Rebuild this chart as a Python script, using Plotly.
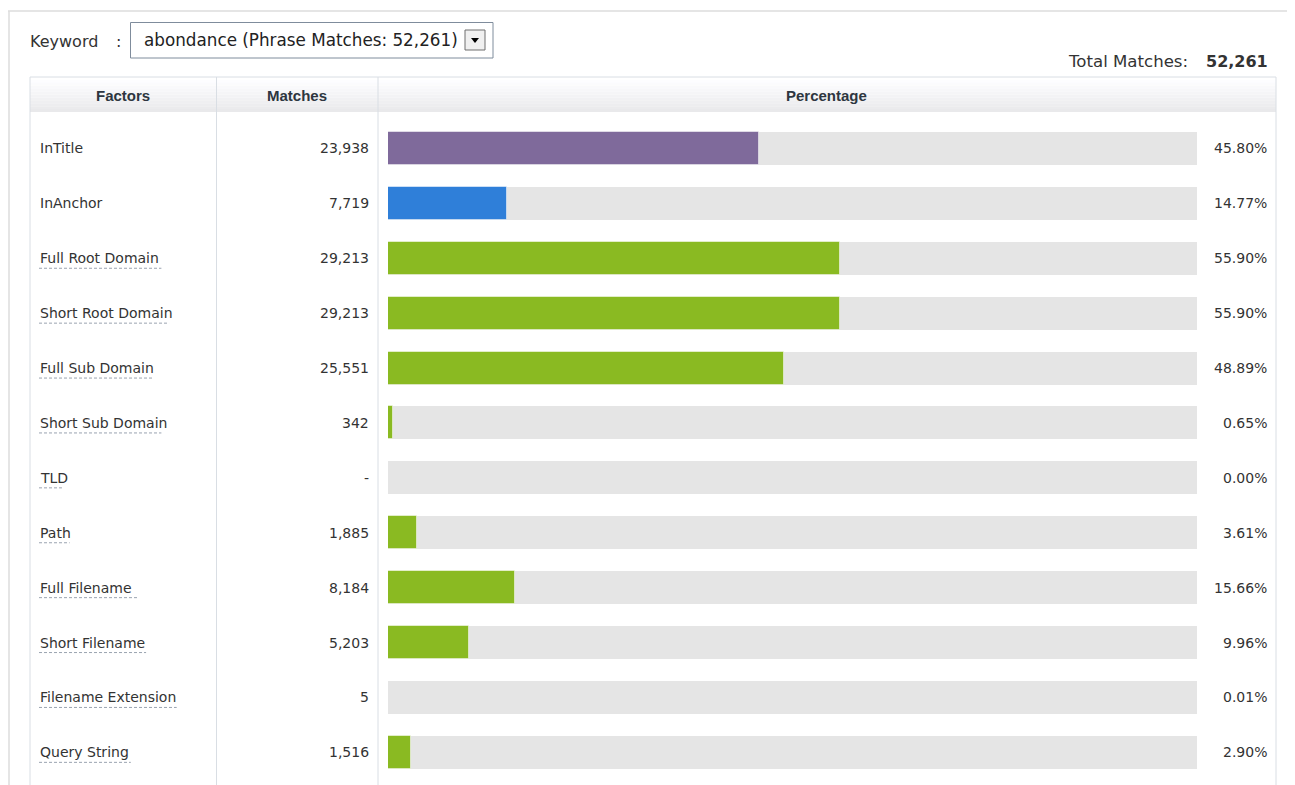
import plotly.graph_objects as go

factors = ["InTitle", "InAnchor", "Full Root Domain", "Short Root Domain", "Full Sub Domain",
           "Short Sub Domain", "TLD", "Path", "Full Filename", "Short Filename",
           "Filename Extension", "Query String"]
matches = [23938, 7719, 29213, 29213, 25551, 342, 0, 1885, 8184, 5203, 5, 1516]
percentages = [45.80, 14.77, 55.90, 55.90, 48.89, 0.65, 0.00, 3.61, 15.66, 9.96, 0.01, 2.90]
bar_colors = ["#7f6a9b", "#2f7fd9"] + ["#8aba22"] * 10
underlined = [False, False] + [True] * 10
total_matches = 52261
keyword = "abondance"
phrase_matches = 52261

OFF = 8  # page body margin
W, H = 1295 - OFF, 785 - OFF
def px(x): return (x - OFF) / W
def py(y): return 1 - (y - OFF) / H

FONT = "DejaVu Sans"
TXT = "#333333"
BORDER = "#d9dee4"

rows = list(range(len(factors)))

fig = go.Figure()
fig.add_trace(go.Bar(
    y=rows, x=[100] * len(rows), orientation="h",
    marker=dict(color="#e5e5e5", line=dict(width=0)),
    width=0.6, hoverinfo="skip", showlegend=False))
fig.add_trace(go.Bar(
    y=rows, x=percentages, orientation="h",
    marker=dict(color=bar_colors, line=dict(color="rgba(255,255,255,0.5)", width=1)),
    width=0.6, showlegend=False,
    customdata=factors, hovertemplate="%{customdata}: %{x:.2f}%<extra></extra>"))

fig.update_layout(
    width=W, height=H, margin=dict(l=0, r=0, t=0, b=0),
    paper_bgcolor="white", plot_bgcolor="rgba(0,0,0,0)",
    barmode="overlay", bargap=0,
    xaxis=dict(domain=[px(388), px(1197)], range=[0, 100], visible=False, fixedrange=True),
    yaxis=dict(domain=[py(779.8), py(121)], range=[len(rows) - 0.5, -0.5],
               visible=False, fixedrange=True),
)

shapes = []
# outer panel borders
shapes.append(dict(type="line", xref="paper", yref="paper", x0=px(8), x1=px(1291), y0=py(11), y1=py(11),
                   line=dict(color="#dcdcdc", width=1.5)))
shapes.append(dict(type="line", xref="paper", yref="paper", x0=px(9), x1=px(9), y0=py(11), y1=0,
                   line=dict(color="#dcdcdc", width=1.5)))
shapes.append(dict(type="line", xref="paper", yref="paper", x0=px(1291), x1=px(1291), y0=py(11), y1=0,
                   line=dict(color="#dcdcdc", width=1.5)))
# header gradient
steps = 12
for i in range(steps):
    t = i / (steps - 1)
    c = int(255 - 22 * t)
    y0 = 77 + (112 - 77) * i / steps
    y1 = 77 + (112 - 77) * (i + 1) / steps
    shapes.append(dict(type="rect", xref="paper", yref="paper", x0=px(30), x1=px(1276),
                       y0=py(y0), y1=py(y1), fillcolor=f"rgb({c},{c},{min(255, c + 2)})",
                       line=dict(width=0), layer="below"))
# table borders
for x in [30, 216.5, 378, 1276]:
    shapes.append(dict(type="line", xref="paper", yref="paper", x0=px(x), x1=px(x), y0=py(77), y1=0,
                       line=dict(color=BORDER, width=1)))
shapes.append(dict(type="line", xref="paper", yref="paper", x0=px(30), x1=px(1276), y0=py(77), y1=py(77),
                   line=dict(color=BORDER, width=1)))
# dropdown box
shapes.append(dict(type="rect", xref="paper", yref="paper", x0=px(130.5), x1=px(493), y0=py(22.5), y1=py(58),
                   line=dict(color="#7f8c9c", width=1), fillcolor="white"))
shapes.append(dict(type="rect", xref="paper", yref="paper", x0=px(465), x1=px(485), y0=py(30), y1=py(50),
                   line=dict(color="#6f6f6f", width=1), fillcolor="#f0f0f0"))
shapes.append(dict(type="path", xref="paper", yref="paper",
                   path=f"M {px(471)} {py(38)} L {px(479)} {py(38)} L {px(475)} {py(43)} Z",
                   fillcolor="black", line=dict(width=0)))

annotations = []
def txt(x, y, s, anchor="left", size=13, color=TXT, family=FONT, bold=False):
    if bold:
        s = f"<b>{s}</b>"
    shift = {"left": -1, "right": 2, "center": 0}[anchor]
    annotations.append(dict(xref="paper", yref="paper", x=px(x), y=py(y), text=s, showarrow=False,
                            xanchor=anchor, yanchor="middle", xshift=shift,
                            font=dict(family=family, size=size, color=color)))

txt(29, 42, "Keyword", size=16)
txt(115, 42, ":", size=16)
txt(143, 40, f"{keyword} (Phrase Matches: {phrase_matches:,})", size=16.8, color="#222")
txt(1188, 62, "Total Matches:", anchor="right", size=16.6)
txt(1268, 62, f"{total_matches:,}", anchor="right", size=16, bold=True)

txt(123, 95, "Factors", anchor="center", size=15, family="Liberation Sans", bold=True, color="#2e3640")
txt(297, 95, "Matches", anchor="center", size=15, family="Liberation Sans", bold=True, color="#2e3640")
txt(826, 95, "Percentage", anchor="center", size=15, family="Liberation Sans", bold=True, color="#2e3640")

row_y0, row_h = 121, 54.9
for i, (f, m, p, u) in enumerate(zip(factors, matches, percentages, underlined)):
    yc = row_y0 + row_h * (i + 0.5)
    txt(39, yc, f, size=14)
    txt(369, yc, f"{m:,}" if m else "-", anchor="right", size=14)
    txt(1267, yc, f"{p:.2f}%", anchor="right", size=14)
    if u:
        wdt = len(f) * 7.65
        shapes.append(dict(type="line", xref="paper", yref="paper", x0=px(39), x1=px(39 + wdt),
                           y0=py(yc + 10), y1=py(yc + 10),
                           line=dict(color="#9aa3b0", width=1, dash="3px,2px")))

fig.update_layout(shapes=shapes, annotations=annotations)
fig.write_html("out.html")
